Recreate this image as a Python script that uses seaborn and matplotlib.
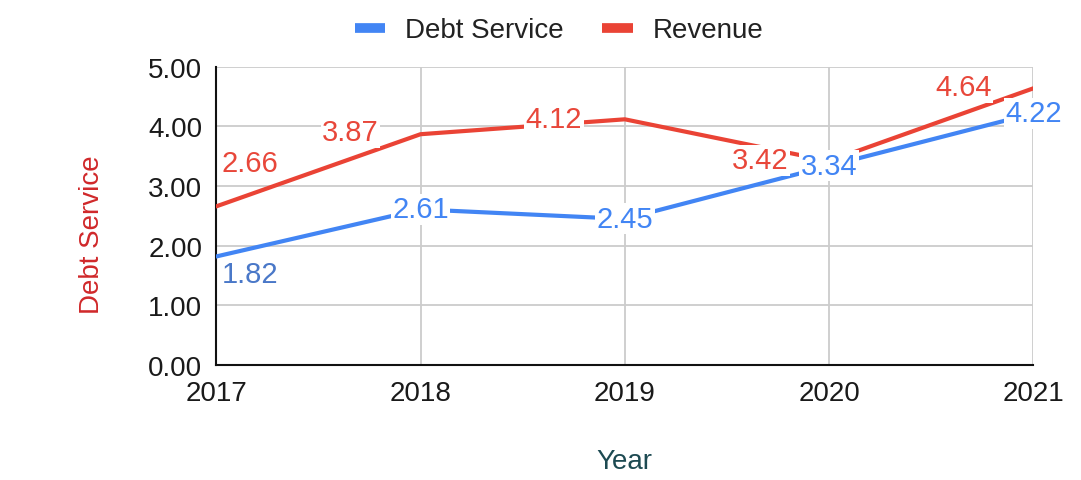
import matplotlib
matplotlib.use("Agg")
import matplotlib.pyplot as plt
import seaborn as sns
import pandas as pd

years = [2017, 2018, 2019, 2020, 2021]
debt_service = [1.82, 2.61, 2.45, 3.34, 4.22]
revenue = [2.66, 3.87, 4.12, 3.42, 4.64]
series_names = ["Debt Service", "Revenue"]
y_ticks = [0, 1, 2, 3, 4, 5]

blue = "#4285F4"
red = "#EA4335"

df = pd.DataFrame({
    "Year": years * 2,
    "Value": debt_service + revenue,
    "Series": [series_names[0]] * len(years) + [series_names[1]] * len(years),
})

sns.set_style("white")
plt.rcParams["font.family"] = ["Liberation Sans", "DejaVu Sans"]

fig = plt.figure(figsize=(10.81, 4.81), dpi=100)
ax = fig.add_axes([0.2, 0.239, 0.756, 0.62])

sns.lineplot(data=df, x="Year", y="Value", hue="Series",
             palette={series_names[0]: blue, series_names[1]: red},
             linewidth=3.0, ax=ax, legend=False, zorder=3)

ax.set_xlim(years[0], years[-1])
ax.set_ylim(0, 5)
ax.set_xticks(years)
ax.set_xticklabels([str(y) for y in years])
ax.set_yticks(y_ticks)
ax.set_yticklabels([f"{v:.2f}" for v in y_ticks])
ax.tick_params(axis="both", labelsize=20, length=0, colors="#1a1a1a")
ax.tick_params(axis="x", pad=11)
ax.tick_params(axis="y", pad=10)
ax.grid(True, color="#cccccc", linewidth=1.3)
ax.set_axisbelow(True)
for s in ["top", "right"]:
    ax.spines[s].set_visible(False)
for s in ["left", "bottom"]:
    ax.spines[s].set_color("#111111")
    ax.spines[s].set_linewidth(1.5)

ax.set_xlabel("Year", fontsize=20, color="#1d4a52", labelpad=30)
ax.set_ylabel("Debt Service", fontsize=20, color="#d0282a", labelpad=31)
ax.yaxis.label.set_y(0.44)

# data labels (offsets in pixels, like the reference)
red_off = [(34, 43), (-70, 2), (-71, 0), (-69, 1), (-70, 1)]
blue_off = [(34, -18), (0, 0), (0, 0), (0, 0), (0, 0)]
box = dict(boxstyle="square,pad=0.05", fc="white", ec="none")
for x, v, off in zip(years, revenue, red_off):
    ax.annotate(f"{v:.2f}", (x, v), xytext=off, textcoords="offset pixels",
                ha="center", va="center", fontsize=21, color="#e8473a",
                bbox=box, zorder=5, annotation_clip=False)
for i, (x, v, off) in enumerate(zip(years, debt_service, blue_off)):
    c = "#4a78c8" if i == 0 else blue
    ax.annotate(f"{v:.2f}", (x, v), xytext=off, textcoords="offset pixels",
                ha="center", va="center", fontsize=21, color=c,
                bbox=box, zorder=5, annotation_clip=False)

handles = [plt.Line2D([], [], color=blue, linewidth=7, solid_capstyle="butt"),
           plt.Line2D([], [], color=red, linewidth=7, solid_capstyle="butt")]
fig.legend(handles, series_names, loc="center", bbox_to_anchor=(0.517, 0.935),
           ncol=2, frameon=False, fontsize=20, handlelength=1.1,
           handletextpad=0.7, columnspacing=1.4, labelcolor="#222222")

fig.savefig("out.png", dpi=100, facecolor="white")
